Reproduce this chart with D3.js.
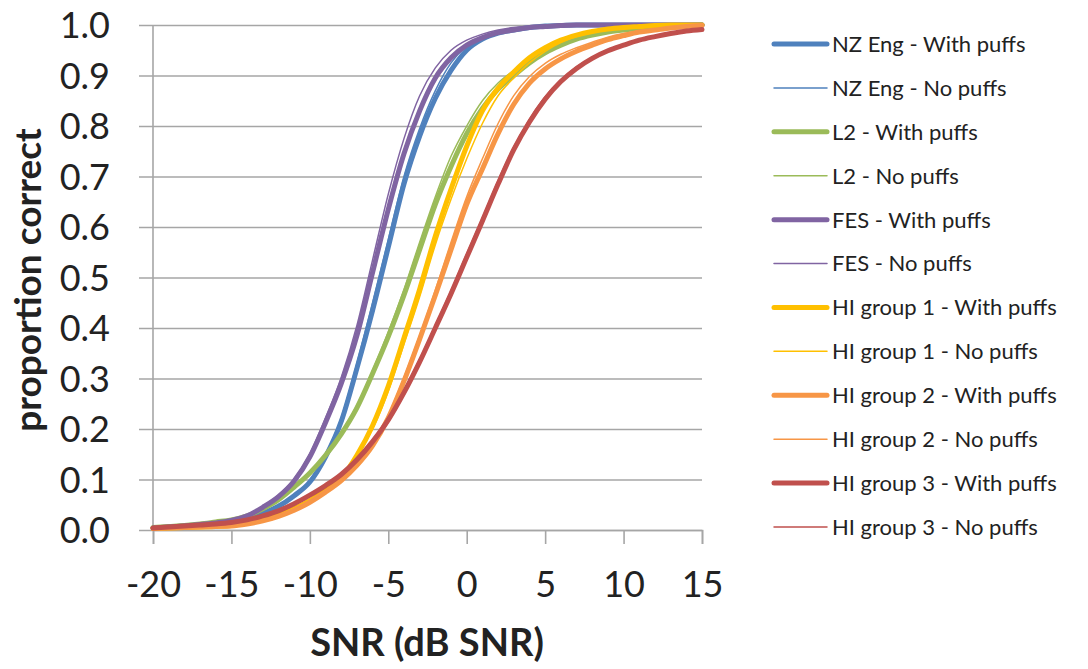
<!DOCTYPE html>
<html>
<head>
<meta charset="utf-8">
<script src="https://cdn.jsdelivr.net/npm/d3@7"></script>
<style>
  body { margin: 0; background: #fff; }
  text { font-family: Lato, "Open Sans", sans-serif; fill: #222; }
</style>
</head>
<body>
<div id="chart"></div>
<script>
// SNR steps (dB)
const snr = d3.range(-20, 16);

// proportion correct, one value per SNR step
const nzWith = [0.004,0.005,0.007,0.009,0.012,0.015,0.022,0.033,0.047,0.068,0.095,0.145,0.215,0.32,0.435,0.56,0.685,0.78,0.855,0.91,0.95,0.972,0.984,0.99,0.995,0.998,0.999,1,1,1,1,1,1,1,1,1];
const nzNo = [0.004,0.005,0.007,0.009,0.012,0.015,0.022,0.033,0.048,0.07,0.098,0.15,0.222,0.33,0.45,0.575,0.7,0.795,0.87,0.925,0.958,0.976,0.987,0.993,0.996,0.998,0.999,1,1,1,1,1,1,1,1,1];
const l2With = [0.005,0.007,0.009,0.012,0.016,0.02,0.028,0.042,0.06,0.085,0.113,0.148,0.19,0.242,0.31,0.383,0.465,0.555,0.645,0.72,0.785,0.835,0.873,0.9,0.925,0.945,0.96,0.972,0.98,0.986,0.99,0.993,0.996,0.998,0.999,1];
const l2No = [0.005,0.007,0.009,0.012,0.016,0.02,0.028,0.042,0.06,0.085,0.115,0.151,0.194,0.247,0.316,0.392,0.476,0.57,0.66,0.74,0.8,0.85,0.885,0.91,0.932,0.95,0.963,0.974,0.982,0.987,0.991,0.994,0.996,0.998,0.999,1];
const fesWith = [0.004,0.006,0.008,0.011,0.014,0.019,0.028,0.045,0.066,0.097,0.145,0.213,0.29,0.385,0.51,0.635,0.745,0.83,0.895,0.935,0.96,0.975,0.985,0.99,0.995,0.997,0.999,1,1,1,1,1,1,1,1,1];
const fesNo = [0.004,0.006,0.008,0.011,0.015,0.02,0.03,0.047,0.069,0.101,0.151,0.222,0.302,0.405,0.535,0.665,0.775,0.86,0.915,0.95,0.97,0.982,0.99,0.995,0.997,0.999,1,1,1,1,1,1,1,1,1,1];
const hi1With = [0.003,0.004,0.005,0.006,0.007,0.009,0.014,0.021,0.03,0.042,0.058,0.078,0.103,0.148,0.207,0.285,0.38,0.477,0.582,0.675,0.76,0.83,0.875,0.907,0.935,0.955,0.97,0.98,0.987,0.992,0.995,0.997,0.999,1,1,1];
const hi1No = [0.003,0.004,0.005,0.006,0.007,0.009,0.014,0.021,0.03,0.042,0.058,0.077,0.101,0.145,0.2,0.275,0.368,0.462,0.565,0.655,0.735,0.805,0.86,0.895,0.925,0.948,0.965,0.977,0.985,0.99,0.994,0.996,0.998,0.999,1,1];
const hi2With = [0.003,0.004,0.005,0.006,0.007,0.008,0.012,0.018,0.027,0.039,0.055,0.075,0.098,0.128,0.167,0.222,0.295,0.378,0.465,0.555,0.645,0.715,0.785,0.843,0.885,0.913,0.933,0.948,0.96,0.971,0.979,0.986,0.99,0.994,0.997,0.999];
const hi2No = [0.003,0.004,0.005,0.006,0.007,0.008,0.012,0.018,0.027,0.039,0.055,0.075,0.099,0.13,0.17,0.227,0.302,0.385,0.475,0.57,0.66,0.735,0.805,0.86,0.898,0.924,0.942,0.955,0.966,0.976,0.983,0.988,0.992,0.995,0.998,0.999];
const hi3With = [0.004,0.006,0.008,0.01,0.012,0.015,0.02,0.028,0.038,0.052,0.069,0.088,0.11,0.139,0.175,0.218,0.272,0.333,0.4,0.468,0.54,0.612,0.685,0.753,0.808,0.853,0.888,0.914,0.934,0.949,0.96,0.97,0.977,0.983,0.988,0.991];
const hi3No = [0.004,0.006,0.008,0.01,0.012,0.015,0.02,0.028,0.038,0.052,0.07,0.089,0.112,0.141,0.178,0.222,0.277,0.338,0.405,0.474,0.547,0.618,0.692,0.758,0.813,0.858,0.891,0.917,0.936,0.951,0.962,0.971,0.978,0.984,0.988,0.991];

const seriesNames = ["NZ Eng - With puffs","NZ Eng - No puffs","L2 - With puffs","L2 - No puffs",
  "FES - With puffs","FES - No puffs","HI group 1 - With puffs","HI group 1 - No puffs",
  "HI group 2 - With puffs","HI group 2 - No puffs","HI group 3 - With puffs","HI group 3 - No puffs"];
const seriesValues = [nzWith, nzNo, l2With, l2No, fesWith, fesNo, hi1With, hi1No, hi2With, hi2No, hi3With, hi3No];
const colors = ["#4f81bd","#4f81bd","#9bbb59","#9bbb59","#8064a2","#8064a2",
  "#ffc000","#ffc000","#f79646","#f79646","#c0504d","#c0504d"];

const xTicks = [-20,-15,-10,-5,0,5,10,15];
const yTicks = d3.range(0, 11).map(d => d / 10);

const W = 1088, H = 669;
const margin = {top: 25, right: 386, bottom: 139, left: 153};
const width = W - margin.left - margin.right;
const height = H - margin.top - margin.bottom;

const svg = d3.select("#chart").append("svg")
  .attr("width", W).attr("height", H);
const g = svg.append("g")
  .attr("transform", `translate(${margin.left},${margin.top})`);

const x = d3.scaleLinear().domain([-20, 15]).range([0, width]);
const y = d3.scaleLinear().domain([0, 1]).range([height, 0]);

// gridlines + y ticks
const yAxis = g.append("g")
  .call(d3.axisLeft(y).tickValues(yTicks).tickSize(-width).tickFormat(d3.format(".1f")).tickPadding(43));
yAxis.select(".domain").remove();
yAxis.selectAll(".tick line").attr("x1", width).attr("x2", -14)
  .attr("stroke", "#a6a6a6").attr("stroke-width", 1.6);
yAxis.selectAll(".tick text").style("font-size", "36px").attr("fill", "#222").attr("dy", "0.35em");

// vertical axis line
g.append("line").attr("x1", 0).attr("x2", 0).attr("y1", 0).attr("y2", height)
  .attr("stroke", "#a6a6a6").attr("stroke-width", 1.6);

// x axis
const xAxis = g.append("g")
  .attr("transform", `translate(0,${height})`)
  .call(d3.axisBottom(x).tickValues(xTicks).tickSize(14).tickPadding(27).tickFormat(d => String(d)));
xAxis.select(".domain").attr("stroke", "#a6a6a6").attr("stroke-width", 1.6);
xAxis.selectAll(".tick line").attr("stroke", "#a6a6a6").attr("stroke-width", 1.6);
xAxis.selectAll(".tick text").style("font-size", "36px").attr("fill", "#222");

// series lines
const line = d3.line()
  .x((d, i) => x(snr[i]))
  .y(d => y(d))
  .curve(d3.curveMonotoneX);

seriesValues.forEach((vals, i) => {
  g.append("path")
    .datum(vals)
    .attr("fill", "none")
    .attr("stroke", colors[i])
    .attr("stroke-width", i % 2 === 0 ? 5 : 1.5)
    .attr("stroke-linejoin", "round")
    .attr("stroke-linecap", "round")
    .attr("d", line);
});

// axis titles
svg.append("text")
  .attr("x", 427).attr("y", 656)
  .attr("text-anchor", "middle")
  .style("font-size", "38px").style("font-weight", "bold")
  .text("SNR (dB SNR)");

svg.append("text")
  .attr("transform", "translate(41,280) rotate(-90)")
  .attr("text-anchor", "middle")
  .style("font-size", "37px").style("font-weight", "bold")
  .text("proportion  correct");

// legend
const ly = d3.scalePoint().domain(seriesNames).range([44, 527]);
const legend = svg.append("g");
seriesNames.forEach((name, i) => {
  legend.append("line")
    .attr("x1", 774).attr("x2", 827)
    .attr("y1", ly(name)).attr("y2", ly(name))
    .attr("stroke", colors[i])
    .attr("stroke-width", i % 2 === 0 ? 5 : 1.5)
    .attr("stroke-linecap", "round");
  legend.append("text")
    .attr("x", 832).attr("y", ly(name))
    .attr("dy", "0.36em")
    .style("font-size", "22px")
    .text(name);
});
</script>
</body>
</html>
